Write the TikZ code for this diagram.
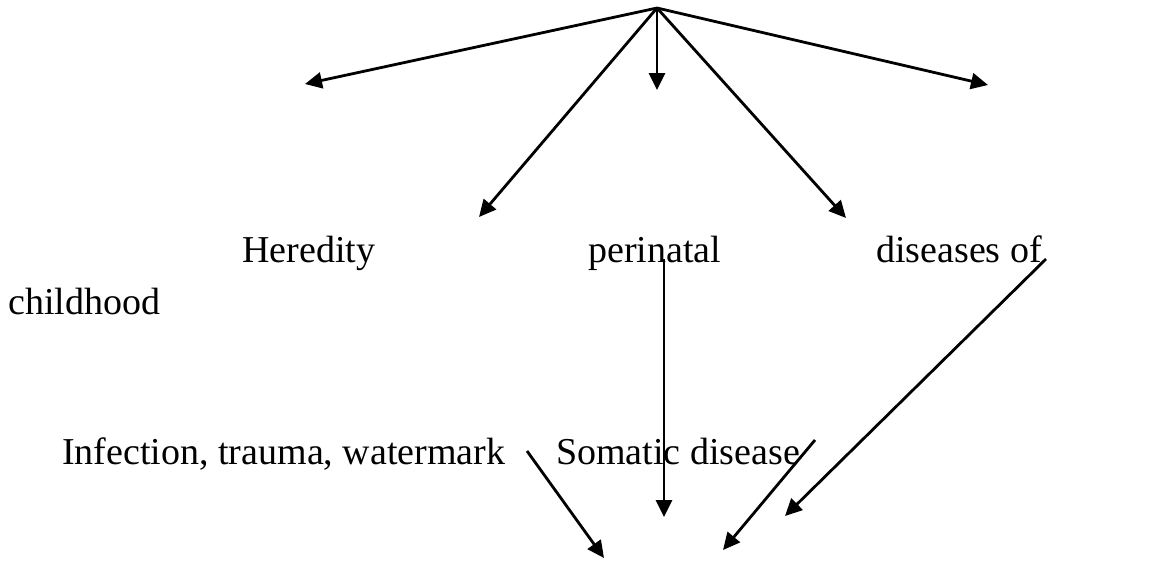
\documentclass[tikz,border=0pt]{standalone}
\usepackage{fontspec}
\setmainfont{Liberation Serif}
\usetikzlibrary{arrows.meta}
\begin{document}
\begin{tikzpicture}[x=1pt,y=-1pt,
  conn/.style={line width=2.8pt,-{Triangle[length=17pt,width=16pt]}},
  lbl/.style={inner sep=0pt,anchor=base west,font=\fontsize{38}{45}\selectfont}]
\useasboundingbox (0,0) rectangle (1168,560);
% top apex and arrow ends
\coordinate (apex) at (657,8);
\coordinate (t1) at (305,84);
\coordinate (t2) at (657,90);
\coordinate (t3) at (988,85);
\coordinate (t4) at (479,217);
\coordinate (t5) at (846,218);
\draw[conn] (apex) -- (t1);
\draw[conn] (apex) -- (t2);
\draw[conn] (apex) -- (t3);
\draw[conn] (apex) -- (t4);
\draw[conn] (apex) -- (t5);
% labels
\node[lbl] (her) at (242,262) {Heredity};
\node[lbl] (per) at (588,262) {perinatal};
\node[lbl] (dis) at (876,262) {diseases of};
\node[lbl] (chi) at (8,314) {childhood};
\node[lbl] (inf) at (62,464) {Infection, trauma, watermark};
\node[lbl] (som) at (556,464) {Somatic disease};
% lower arrows
\coordinate (v1) at (664,259);
\coordinate (v2) at (664,517);
\coordinate (d1) at (1046,259);
\coordinate (d2) at (785,516);
\coordinate (i1) at (527,451);
\coordinate (i2) at (604,558);
\coordinate (s1) at (815,440);
\coordinate (s2) at (723,550);
\draw[conn] (v1) -- (v2);
\draw[conn] (d1) -- (d2);
\draw[conn] (i1) -- (i2);
\draw[conn] (s1) -- (s2);
\end{tikzpicture}
\end{document}
